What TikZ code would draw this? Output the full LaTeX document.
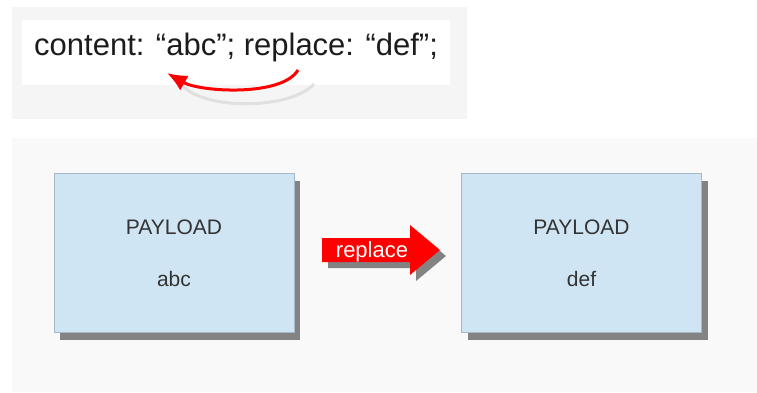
\documentclass[tikz,border=0pt]{standalone}
\usepackage{fontspec}
\setmainfont{Liberation Sans}
\usetikzlibrary{positioning, shadows, arrows.meta}

\definecolor{panelgray}{HTML}{F5F5F5}
\definecolor{panelbg}{HTML}{F9F9F9}
\definecolor{boxblue}{HTML}{D0E5F3}
\definecolor{boxline}{HTML}{A6B9C8}
\definecolor{shadowgray}{HTML}{838383}
\definecolor{inkdark}{HTML}{1C1C1C}

\tikzset{
    payload/.style={draw=boxline, line width=0.8pt, fill=boxblue,
        minimum width=240pt, minimum height=159pt, align=center,
        text=inkdark!90, font=\fontsize{21}{52}\selectfont,
        drop shadow={shadow xshift=6pt, shadow yshift=-7pt, fill=shadowgray, opacity=1}},
    redarc/.style={red, line width=3pt, -{Latex[length=20pt,width=17pt]}},
}

\begin{document}
\begin{tikzpicture}[x=1pt, y=-1pt]
        \useasboundingbox (0,0) rectangle (757,392);

        % rule panel
        \fill[panelgray] (12,7) rectangle (467,119);
        \fill[white] (22,20) rectangle (450,85);
        \node[anchor=base west, inner sep=0pt, text=inkdark,
              font=\fontsize{31}{36}\selectfont] (rule) at (34,55)
              {content: “abc”; replace: “def”;};

        \coordinate (arcstart) at (298,70);
        \coordinate (arcend) at (167,73);
        \coordinate (shstart) at (314,84);
        \coordinate (shend) at (183,86);

        \draw[black!12, line width=3pt] (shend) .. controls (205,110) and (290,110) .. (shstart);
        \draw[redarc] (arcstart) .. controls (282,97) and (200,92) .. (arcend);

        % payload panel
        \fill[panelbg] (12,138) rectangle (757,392);

        \node[payload] (before) at (174,253) {PAYLOAD\\abc};
        \node[payload] (after) at (581.5,253) {PAYLOAD\\def};

        \fill[red, drop shadow={shadow xshift=6pt, shadow yshift=-6pt, fill=shadowgray, opacity=1}]
            (322,238) -- (410,238) -- (410,225) -- (440,250)
            -- (410,275) -- (410,262) -- (322,262) -- cycle;
        \node[anchor=base, inner sep=0pt, text=white,
              font=\fontsize{22}{26}\selectfont] (replace) at (372,257) {replace};

    \end{tikzpicture}
\end{document}
